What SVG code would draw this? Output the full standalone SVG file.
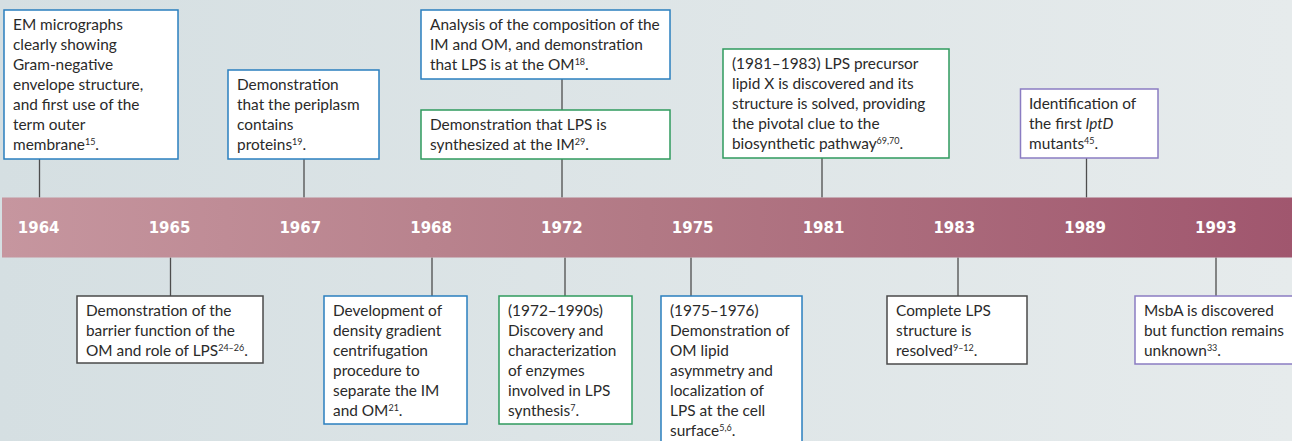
<svg xmlns="http://www.w3.org/2000/svg" width="1292" height="441" viewBox="0 0 1292 441">
<defs>
<linearGradient id="bg" x1="0" y1="0" x2="1" y2="0">
<stop offset="0" stop-color="#d5dfe2"/>
<stop offset="1" stop-color="#e6ebec"/>
</linearGradient>
<linearGradient id="bar" x1="0" y1="0" x2="1" y2="0">
<stop offset="0" stop-color="#c6969f"/>
<stop offset="0.5" stop-color="#b27985"/>
<stop offset="1" stop-color="#a0566e"/>
</linearGradient>
<style>
.box{fill:#ffffff;stroke-width:1.5}
.blue{stroke:#2a7fbf}
.green{stroke:#2f9a5e}
.purple{stroke:#8a7cc2}
.dark{stroke:#4a4a4a}
.t{font-family:Lato,"Open Sans",sans-serif;font-size:15.4px;fill:#2a2a2a}
.sup{font-size:9px}
.yr{font-family:"DejaVu Sans",sans-serif;font-weight:bold;font-size:15px;fill:#ffffff;text-anchor:middle}
.con line{stroke:#4d4d4d;stroke-width:1.3}
</style>
</defs>
<rect x="0" y="0" width="1292" height="441" fill="url(#bg)"/>

<g id="connectors" class="con">
<line x1="39.5" y1="159" x2="39.5" y2="197.5"/>
<line x1="304" y1="159" x2="304" y2="197.5"/>
<line x1="562" y1="79" x2="562" y2="110"/>
<line x1="562" y1="159" x2="562" y2="197.5"/>
<line x1="822" y1="158" x2="822" y2="197.5"/>
<line x1="1086.5" y1="158" x2="1086.5" y2="197.5"/>
<line x1="170.5" y1="257.5" x2="170.5" y2="296"/>
<line x1="432" y1="257.5" x2="432" y2="296"/>
<line x1="565" y1="257.5" x2="565" y2="296"/>
<line x1="691" y1="257.5" x2="691" y2="296"/>
<line x1="958" y1="257.5" x2="958" y2="296"/>
<line x1="1216" y1="257.5" x2="1216" y2="296"/>
</g>

<g id="timeline">
<rect x="2" y="197.5" width="1292" height="60" fill="url(#bar)"/>
<text class="yr" x="38.7" y="233.3">1964</text>
<text class="yr" x="169.5" y="233.3">1965</text>
<text class="yr" x="300.3" y="233.3">1967</text>
<text class="yr" x="431.1" y="233.3">1968</text>
<text class="yr" x="561.9" y="233.3">1972</text>
<text class="yr" x="692.7" y="233.3">1975</text>
<text class="yr" x="823.5" y="233.3">1981</text>
<text class="yr" x="954.3" y="233.3">1983</text>
<text class="yr" x="1085.1" y="233.3">1989</text>
<text class="yr" x="1215.9" y="233.3">1993</text>
</g>

<g id="n1964">
<rect class="box blue" x="4" y="10" width="174" height="149"/>
<text class="t" x="13" y="30">EM micrographs</text>
<text class="t" x="13" y="50">clearly showing</text>
<text class="t" x="13" y="70">Gram-negative</text>
<text class="t" x="13" y="90">envelope structure,</text>
<text class="t" x="13" y="110">and first use of the</text>
<text class="t" x="13" y="130">term outer</text>
<text class="t" x="13" y="150">membrane<tspan class="sup" dy="-5">15</tspan><tspan dy="5">.</tspan></text>
</g>

<g id="n1967">
<rect class="box blue" x="228" y="70" width="151" height="89"/>
<text class="t" x="237" y="90">Demonstration</text>
<text class="t" x="237" y="110">that the periplasm</text>
<text class="t" x="237" y="130">contains</text>
<text class="t" x="237" y="150">proteins<tspan class="sup" dy="-5">19</tspan><tspan dy="5">.</tspan></text>
</g>

<g id="n1972a">
<rect class="box blue" x="421" y="10" width="249" height="69"/>
<text class="t" x="430" y="30">Analysis of the composition of the</text>
<text class="t" x="430" y="50">IM and OM, and demonstration</text>
<text class="t" x="430" y="70">that LPS is at the OM<tspan class="sup" dy="-5">18</tspan><tspan dy="5">.</tspan></text>
</g>

<g id="n1972b">
<rect class="box green" x="421" y="110" width="249" height="49"/>
<text class="t" x="430" y="130">Demonstration that LPS is</text>
<text class="t" x="430" y="150">synthesized at the IM<tspan class="sup" dy="-5">29</tspan><tspan dy="5">.</tspan></text>
</g>

<g id="n1981">
<rect class="box green" x="723" y="49" width="226" height="109"/>
<text class="t" x="732" y="69">(1981–1983) LPS precursor</text>
<text class="t" x="732" y="89">lipid X is discovered and its</text>
<text class="t" x="732" y="109">structure is solved, providing</text>
<text class="t" x="732" y="129">the pivotal clue to the</text>
<text class="t" x="732" y="149">biosynthetic pathway<tspan class="sup" dy="-5">69,70</tspan><tspan dy="5">.</tspan></text>
</g>

<g id="n1989">
<rect class="box purple" x="1020.5" y="89" width="137.5" height="69"/>
<text class="t" x="1029" y="109">Identification of</text>
<text class="t" x="1029" y="129">the first <tspan font-style="italic">lptD</tspan></text>
<text class="t" x="1029" y="149">mutants<tspan class="sup" dy="-5">45</tspan><tspan dy="5">.</tspan></text>
</g>

<g id="n1965">
<rect class="box dark" x="77" y="296" width="186" height="67"/>
<text class="t" x="86" y="316">Demonstration of the</text>
<text class="t" x="86" y="336">barrier function of the</text>
<text class="t" x="86" y="356">OM and role of LPS<tspan class="sup" dy="-5">24–26</tspan><tspan dy="5">.</tspan></text>
</g>

<g id="n1968">
<rect class="box blue" x="324" y="296" width="143" height="128"/>
<text class="t" x="333" y="316">Development of</text>
<text class="t" x="333" y="336">density gradient</text>
<text class="t" x="333" y="356">centrifugation</text>
<text class="t" x="333" y="376">procedure to</text>
<text class="t" x="333" y="396">separate the IM</text>
<text class="t" x="333" y="416">and OM<tspan class="sup" dy="-5">21</tspan><tspan dy="5">.</tspan></text>
</g>

<g id="n1972c">
<rect class="box green" x="499" y="296" width="133" height="128"/>
<text class="t" x="508" y="316">(1972–1990s)</text>
<text class="t" x="508" y="336">Discovery and</text>
<text class="t" x="508" y="356">characterization</text>
<text class="t" x="508" y="376">of enzymes</text>
<text class="t" x="508" y="396">involved in LPS</text>
<text class="t" x="508" y="416">synthesis<tspan class="sup" dy="-5">7</tspan><tspan dy="5">.</tspan></text>
</g>

<g id="n1975">
<rect class="box blue" x="661" y="296" width="141" height="150"/>
<text class="t" x="670" y="316">(1975–1976)</text>
<text class="t" x="670" y="336">Demonstration of</text>
<text class="t" x="670" y="356">OM lipid</text>
<text class="t" x="670" y="376">asymmetry and</text>
<text class="t" x="670" y="396">localization of</text>
<text class="t" x="670" y="416">LPS at the cell</text>
<text class="t" x="670" y="436">surface<tspan class="sup" dy="-5">5,6</tspan><tspan dy="5">.</tspan></text>
</g>

<g id="n1983">
<rect class="box dark" x="887" y="296" width="140" height="68"/>
<text class="t" x="896" y="316">Complete LPS</text>
<text class="t" x="896" y="336">structure is</text>
<text class="t" x="896" y="356">resolved<tspan class="sup" dy="-5">9–12</tspan><tspan dy="5">.</tspan></text>
</g>

<g id="n1993">
<rect class="box purple" x="1135" y="296" width="160" height="68"/>
<text class="t" x="1144" y="316">MsbA is discovered</text>
<text class="t" x="1144" y="336">but function remains</text>
<text class="t" x="1144" y="356">unknown<tspan class="sup" dy="-5">33</tspan><tspan dy="5">.</tspan></text>
</g>
</svg>
